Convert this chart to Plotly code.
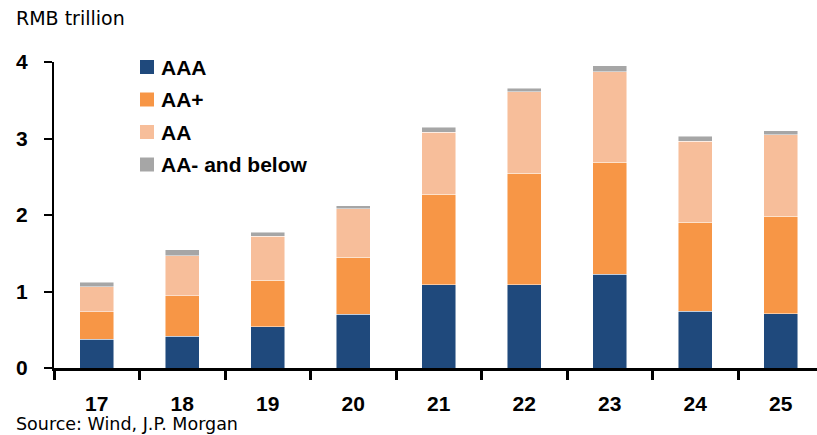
import plotly.graph_objects as go

years = ["17", "18", "19", "20", "21", "22", "23", "24", "25"]
aaa = [0.375, 0.418, 0.537, 0.704, 1.09, 1.09, 1.226, 0.743, 0.708]
aa_plus = [0.36, 0.526, 0.613, 0.741, 1.18, 1.456, 1.464, 1.162, 1.276]
aa = [0.329, 0.522, 0.57, 0.635, 0.815, 1.062, 1.185, 1.062, 1.066]
aa_minus_below = [0.056, 0.078, 0.054, 0.04, 0.065, 0.052, 0.075, 0.063, 0.05]
y_ticks = [0, 1, 2, 3, 4]

series = [
    ("AAA", aaa, "#1F497C"),
    ("AA+", aa_plus, "#F79646"),
    ("AA", aa, "#F7BE9A"),
    ("AA- and below", aa_minus_below, "#A6A6A6"),
]

BOLD = "Liberation Sans, Arial, sans-serif"
REG = "DejaVu Sans, Liberation Sans, sans-serif"

W, H = 817, 435
L, R, T, B = 54, 0, 62, 67
PW, PH = W - L - R, H - T - B


def px(x):
    return (x - L) / PW


def py(y):
    return (H - B - y) / PH


x_pos = list(range(len(years)))

fig = go.Figure()
for name, vals, color in series:
    fig.add_trace(go.Bar(
        x=x_pos, y=vals, name=name,
        marker=dict(color=color, line=dict(width=0.6, color="rgba(255,255,255,0.8)")),
        width=0.4, showlegend=False,
    ))

# legend drawn as coloured squares with bold labels
shapes = []
annotations = []
for i, (name, _, color) in enumerate(series):
    cy = 67 + i * 32.5
    shapes.append(dict(type="rect", xref="paper", yref="paper",
                       x0=px(140), x1=px(154), y0=py(cy + 7), y1=py(cy - 7),
                       fillcolor=color, line=dict(width=0)))
    annotations.append(dict(text=name, x=px(159), y=py(cy), xref="paper", yref="paper",
                            xanchor="left", yanchor="middle", showarrow=False,
                            font=dict(size=21, family=BOLD, weight="bold", color="black")))

annotations.append(dict(text="RMB trillion", x=px(14), y=py(18), xref="paper", yref="paper",
                        xanchor="left", yanchor="middle", showarrow=False,
                        font=dict(size=19, family=REG, color="black")))
annotations.append(dict(text="Source: Wind, J.P. Morgan", x=px(14), y=py(424), xref="paper", yref="paper",
                        xanchor="left", yanchor="middle", showarrow=False,
                        font=dict(size=17.5, family=REG, color="black")))

fig.update_layout(
    barmode="stack",
    width=W, height=H,
    margin=dict(l=L, r=R, t=T, b=B),
    plot_bgcolor="white", paper_bgcolor="white",
    font=dict(family=BOLD, color="black"),
    showlegend=False,
    xaxis=dict(
        range=[-0.5, 8.424],
        tickmode="array", tickvals=x_pos, ticktext=years,
        ticks="outside", ticklen=15, tickcolor="rgba(0,0,0,0)",
        tickfont=dict(size=21, family=BOLD, weight="bold"),
        showline=True, linecolor="black", linewidth=2.5,
        showgrid=False, zeroline=False,
        minor=dict(tick0=0.5, dtick=1, ticks="outside", ticklen=9,
                   tickwidth=3, tickcolor="black", showgrid=False),
    ),
    yaxis=dict(
        range=[0, 4],
        tickmode="array", tickvals=y_ticks, ticktext=[str(v) for v in y_ticks],
        ticks="outside", ticklen=8, tickwidth=2, tickcolor="black",
        ticklabelstandoff=12,
        tickfont=dict(size=21, family=BOLD, weight="bold"),
        showline=True, linecolor="black", linewidth=2,
        showgrid=False, zeroline=False,
    ),
    shapes=shapes,
    annotations=annotations,
)

fig.write_html("out.html")
